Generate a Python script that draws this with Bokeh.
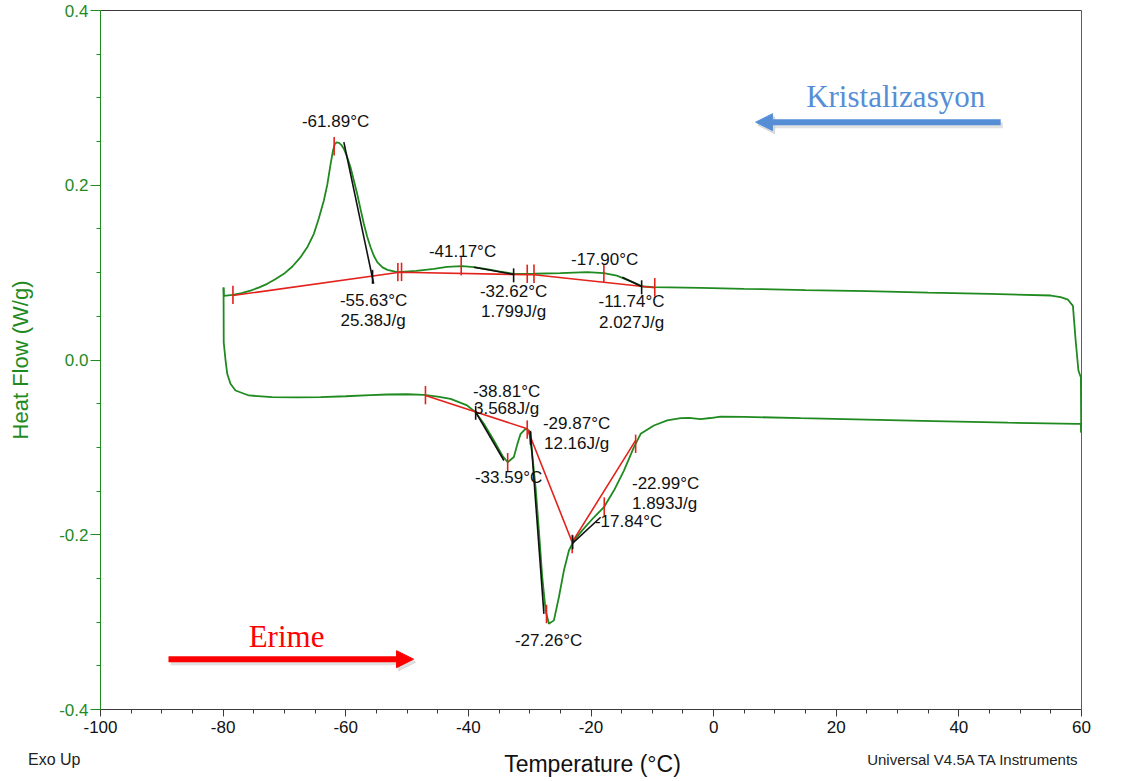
import numpy as np
from bokeh.plotting import figure
from bokeh.layouts import column
from bokeh.models import (Range1d, LinearAxis, FixedTicker, PrintfTickFormatter,
                          Label, Arrow, NormalHead)
from bokeh.core.properties import value
from bokeh.embed import file_html
from bokeh.resources import INLINE

# ---- DSC scan data (temperature in °C, heat flow in W/g) ----
# cooling run, 60 -> -80 °C
cool_T = [59.95, 59.9, 59.5, 59.05, 58.6, 57.8, 56.6, 55.0, 45.0, 35.0, 25.0, 15.0, 5.0,
          -2.1, -9.8, -11.6, -13.0, -14.1, -15.8, -17.9, -20.6, -25.0, -29.3, -32.6,
          -35.0, -37.0, -39.1, -41.0, -43.5, -45.6, -48.5, -51.6, -53.2, -54.0, -54.86,
          -55.4, -55.95, -56.5, -57.05, -57.6, -58.13, -58.7, -59.22, -59.8, -60.3,
          -60.7, -61.1, -61.5, -61.8, -62.1, -62.5, -63.0, -63.57, -64.4, -65.2, -66.2,
          -67.37, -68.7, -70.09, -71.5, -72.81, -74.2, -75.53, -77.0, -78.4, -79.88, -79.93]
cool_hf = [-0.083, -0.02, -0.012, 0.022, 0.062, 0.069, 0.072, 0.0738, 0.0757, 0.0772, 0.0788,
           0.0800, 0.0815, 0.0826, 0.0833, 0.0841, 0.0885, 0.0917, 0.0965, 0.0994, 0.1005,
           0.0994, 0.0987, 0.0986, 0.1015, 0.1040, 0.1062, 0.1074, 0.1065, 0.1044, 0.1020,
           0.1005, 0.1032, 0.1060, 0.1120, 0.1190, 0.1290, 0.1410, 0.1559, 0.1730, 0.1900,
           0.2060, 0.2207, 0.2330, 0.2415, 0.2460, 0.2485, 0.2490, 0.2470, 0.2390, 0.2230,
           0.2010, 0.1825, 0.1620, 0.1444, 0.1300, 0.1177, 0.1070, 0.0986, 0.0925, 0.0872,
           0.0828, 0.0795, 0.0765, 0.0745, 0.0735, 0.0830]

# heating run, -80 -> 60 °C
heat_T = [-79.93, -79.9, -79.6, -79.33, -78.8, -77.98, -75.8, -72.0, -68.0, -64.1,
          -60.0, -56.0, -53.2, -50.0, -47.26, -45.0, -42.9, -40.2, -38.83, -37.47,
          -35.84, -34.47, -33.59, -32.58, -32.0, -31.48, -30.67, -30.1, -29.6, -29.04,
          -28.5, -27.95, -27.4, -26.87, -26.05, -25.24, -24.42, -23.6, -22.79, -21.43,
          -19.52, -17.9, -16.26, -14.63, -13.0, -11.9, -9.74, -7.57, -5.38, -4.0,
          -2.13, -0.5, 1.14, 5.0, 14.2, 25.0, 35.9, 48.0, 59.33, 59.9, 59.95]
heat_hf = [0.083, 0.02, -0.0006, -0.0158, -0.0272, -0.0349, -0.0406, -0.0425, -0.0428, -0.0425,
           -0.0415, -0.0403, -0.0395, -0.0392, -0.0400, -0.0418, -0.0444, -0.0520, -0.0597, -0.0730,
           -0.0921, -0.1093, -0.1170, -0.1110, -0.0960, -0.0845, -0.0787, -0.0807, -0.1070, -0.1456,
           -0.1950, -0.2486, -0.2867, -0.3019, -0.2980, -0.2715, -0.2410, -0.2180, -0.2066, -0.1950,
           -0.1800, -0.1685, -0.1494, -0.1265, -0.0998, -0.0845, -0.0750, -0.0692, -0.0666, -0.0662,
           -0.0676, -0.0664, -0.0647, -0.0650, -0.0666, -0.0683, -0.0700, -0.0717, -0.0730, -0.0730,
           -0.0830]

# integration baselines
cool_base_T = [-78.4, -51.2, -30.0, -29.3, -9.6]
cool_base_hf = [0.0738, 0.1005, 0.0975, 0.0975, 0.0826]
heat_base_T = [-47.0, -30.4, -23.07, -12.72]
heat_base_hf = [-0.0406, -0.0787, -0.2085, -0.0920]

# analysis results
cool_peaks = [-61.89, -41.17, -17.90]
cool_onsets = [-55.63, -32.62, -11.74]
cool_enthalpy = [25.38, 1.799, 2.027]
cool_limits = [-78.4, -51.5, -50.9, -30.4, -29.3, -9.6]
heat_peaks = [-33.59, -27.26, -17.84]
heat_onsets = [-38.81, -29.87, -22.99]
heat_enthalpy = [3.568, 12.16, 1.893]
heat_limits = [-47.0, -30.4, -23.07, -12.72]

# onset tangent segments
tan_T0 = [-60.31, -39.1, -14.9, -38.81, -29.87, -22.99]
tan_hf0 = [0.2493, 0.1062, 0.0948, -0.0597, -0.0826, -0.2095]
tan_T1 = [-55.45, -32.62, -11.74, -34.2, -27.68, -18.43]
tan_hf1 = [0.0875, 0.0979, 0.0842, -0.1150, -0.2905, -0.1800]

# axis ticks
x_ticks = [-100, -80, -60, -40, -20, 0, 20, 40, 60]
x_minor = [v for v in range(-100, 61, 5)]
y_ticks = [-0.4, -0.2, 0.0, 0.2, 0.4]
y_minor = [round(-0.4 + 0.05 * i, 2) for i in range(17)]

# ---- styling ----
GREEN = "#1f8a1f"
RED = "#e3221c"
BLACK = "#111111"
AXIS_GRAY = "#3a3a3a"
BLUE = "#558ed5"
SANS = "Liberation Sans"
SERIF = "Liberation Serif"

p = figure(width=1123, height=745, output_backend="svg", toolbar_location=None,
           x_range=Range1d(-100, 60), y_range=Range1d(-0.4, 0.4),
           min_border_left=100, min_border_right=42, min_border_top=10,
           min_border_bottom=36, background_fill_color="white",
           border_fill_color="white")
p.xgrid.visible = False
p.ygrid.visible = False
p.outline_line_color = None

xa = p.xaxis[0]
xa.ticker = FixedTicker(ticks=x_ticks, minor_ticks=x_minor)
xa.formatter = PrintfTickFormatter(format="%d")
xa.axis_line_color = AXIS_GRAY
xa.major_tick_line_color = AXIS_GRAY
xa.minor_tick_line_color = AXIS_GRAY
xa.major_tick_in = 0
xa.major_tick_out = 7
xa.minor_tick_in = 0
xa.minor_tick_out = 4
xa.major_label_text_font = SANS
xa.major_label_text_font_size = "17px"
xa.major_label_text_color = BLACK
xa.major_label_standoff = 4

ya = p.yaxis[0]
ya.ticker = FixedTicker(ticks=y_ticks, minor_ticks=y_minor)
ya.formatter = PrintfTickFormatter(format="%.1f")
ya.axis_line_color = GREEN
ya.major_tick_line_color = GREEN
ya.minor_tick_line_color = GREEN
ya.major_tick_in = 0
ya.major_tick_out = 10
ya.minor_tick_in = 0
ya.minor_tick_out = 4
ya.major_label_text_font = SANS
ya.major_label_text_font_size = "17px"
ya.major_label_text_color = GREEN
ya.major_label_standoff = 2
ya.axis_label = "Heat Flow (W/g)"
ya.axis_label_text_font = SANS
ya.axis_label_text_font_size = "22px"
ya.axis_label_text_font_style = "normal"
ya.axis_label_text_color = GREEN
ya.axis_label_standoff = 23

# frame edges on top and right
top_edge = LinearAxis(ticker=FixedTicker(ticks=[]), major_label_text_font_size="0px",
                      major_tick_line_color=None, minor_tick_line_color=None,
                      axis_line_color=AXIS_GRAY)
p.add_layout(top_edge, "above")
right_edge = LinearAxis(ticker=FixedTicker(ticks=[]), major_label_text_font_size="0px",
                        major_tick_line_color=None, minor_tick_line_color=None,
                        axis_line_color=GREEN)
p.add_layout(right_edge, "right")

# ---- curves ----
p.line(cool_T, cool_hf, line_color=GREEN, line_width=1.8)
p.line(heat_T, heat_hf, line_color=GREEN, line_width=1.8)

# baselines
p.line(cool_base_T, cool_base_hf, line_color=RED, line_width=1.6)
p.line(heat_base_T, heat_base_hf, line_color=RED, line_width=1.6)

# tangents
p.segment(tan_T0, tan_hf0, tan_T1, tan_hf1, line_color=BLACK, line_width=1.6)

# interpolation helpers for placing marker ticks on the curves
cT = np.array(cool_T)[::-1]
cH = np.array(cool_hf)[::-1]
hT = np.array(heat_T)
hH = np.array(heat_hf)

def on_cool(t):
    return float(np.interp(t, cT, cH))

def on_heat(t):
    return float(np.interp(t, hT, hH))

HALF = 0.0105

red_T = cool_peaks + cool_limits + heat_peaks + heat_limits
red_c = ([on_cool(t) for t in cool_peaks + cool_limits] +
         [on_heat(t) for t in heat_peaks + heat_limits])
p.segment(red_T, [c - HALF for c in red_c], red_T, [c + HALF for c in red_c],
          line_color=RED, line_width=1.6)

blk_T = cool_onsets + heat_onsets
blk_c = ([float(np.interp(t, cool_base_T, cool_base_hf)) for t in cool_onsets] +
         [float(np.interp(t, heat_base_T, heat_base_hf)) for t in heat_onsets])
p.segment(blk_T, [c - 0.009 for c in blk_c], blk_T, [c + 0.007 for c in blk_c],
          line_color=BLACK, line_width=1.6)

# ---- result labels ----
def deg(t):
    return f"{t:.2f}°C"

def jg(h):
    return f"{h:.4g}J/g"

peak_texts = [deg(t) for t in cool_peaks + heat_peaks]
peak_lx = [-61.66, -40.95, -17.78, -33.44, -26.92, -13.87]
peak_ly = [0.2729, 0.1242, 0.1150, -0.1345, -0.3210, -0.1848]

onset_texts = [deg(t) for t in cool_onsets + heat_onsets]
onset_lx = [-55.46, -32.63, -13.38, -33.77, -22.35, -7.83]
onset_ly = [0.0681, 0.0784, 0.0670, -0.0361, -0.0727, -0.1413]

dh_texts = [jg(h) for h in cool_enthalpy + heat_enthalpy]
dh_lx = [-55.55, -32.63, -13.38, -33.77, -22.35, -8.0]
dh_ly = [0.0452, 0.0555, 0.0429, -0.0555, -0.0956, -0.1642]

p.text(x=peak_lx + onset_lx + dh_lx, y=peak_ly + onset_ly + dh_ly,
       text=peak_texts + onset_texts + dh_texts,
       text_font=value(SANS), text_font_size="17px", text_color=BLACK,
       text_align="center", text_baseline="middle")

# ---- direction arrows ----
def direction_arrow(x0, x1, y, col):
    for dx, dy, c, a in [(0.35, -0.0035, "#9a9a9a", 0.3), (0.0, 0.0, col, 1.0)]:
        p.add_layout(Arrow(end=NormalHead(size=17, fill_color=c, line_color=c,
                                          fill_alpha=a, line_alpha=a),
                           x_start=x0 + dx, y_start=y + dy, x_end=x1 + dx, y_end=y + dy,
                           line_color=c, line_width=6, line_alpha=a))

direction_arrow(-88.91, -48.94, -0.3424, "#ff0000")
direction_arrow(46.82, 6.85, 0.2722, BLUE)

p.add_layout(Label(x=-69.66, y=-0.3165, text="Erime", text_font=SERIF,
                   text_font_size="31px", text_color="#ff0000",
                   text_align="center", text_baseline="middle"))
p.add_layout(Label(x=29.69, y=0.3021, text="Kristalizasyon", text_font=SERIF,
                   text_font_size="31px", text_color=BLUE,
                   text_align="center", text_baseline="middle"))

# ---- footer strip: x-axis title and instrument notes on the same temperature scale ----
foot = figure(width=1123, height=36, output_backend="svg", toolbar_location=None,
              x_range=Range1d(-100, 60), y_range=Range1d(0, 36), x_axis_type=None,
              min_border=0, min_border_left=100, min_border_right=42,
              background_fill_color="white", border_fill_color="white")
foot.outline_line_color = None
foot.grid.visible = False

# "Exo Up" sits left of the frame, carried as the footer's single y tick label
fy = foot.yaxis[0]
fy.ticker = FixedTicker(ticks=[22])
fy.major_label_overrides = {22: "Exo Up"}
fy.axis_line_color = None
fy.major_tick_line_color = None
fy.minor_tick_line_color = None
fy.major_tick_out = 0
fy.major_tick_in = 0
fy.major_label_standoff = 20
fy.major_label_text_font = SANS
fy.major_label_text_font_size = "16px"
fy.major_label_text_color = "#222222"

foot.text(x=[-19.76], y=[18], text=["Temperature (°C)"], text_font=value(SANS),
          text_font_size="23px", text_color=BLACK, text_align="center",
          text_baseline="middle")
foot.text(x=[59.67], y=[22], text=["Universal V4.5A TA Instruments"],
          text_font=value(SANS), text_font_size="15px", text_color="#222222",
          text_align="right", text_baseline="middle")

layout = column(p, foot, spacing=0)
open("out.html", "w").write(file_html(layout, INLINE))
